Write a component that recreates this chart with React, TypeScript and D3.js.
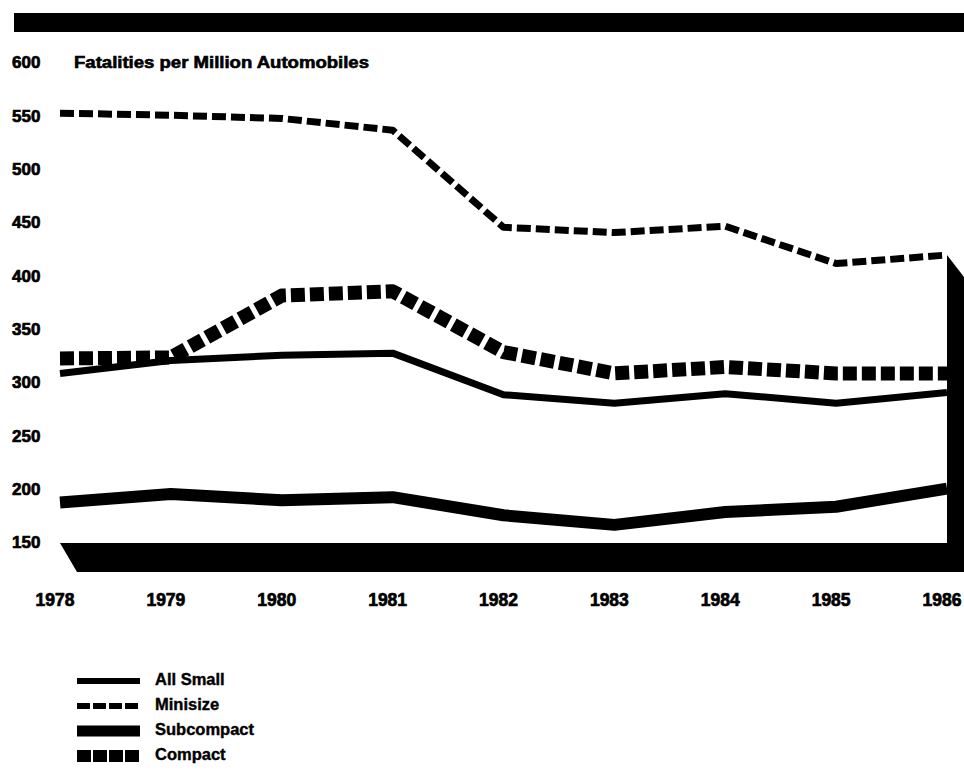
import * as d3 from 'd3'

const years = ['1978', '1979', '1980', '1981', '1982', '1983', '1984', '1985', '1986']
const allSmall = [309, 321, 326, 328, 289, 281, 290, 281, 291]
const minisize = [553, 551, 548, 537, 446, 441, 447, 412, 420]
const subcompact = [188, 196, 190, 193, 176, 167, 179, 184, 201]
const compact = [323, 324, 382, 386, 329, 309, 315, 309, 309]
const yTicks = [600, 550, 500, 450, 400, 350, 300, 250, 200, 150]

const series = [
  { name: 'All Small', values: allSmall, width: 7, dash: null, legendWidth: 6, legendDash: null },
  { name: 'Minisize', values: minisize, width: 7, dash: '14 5', legendWidth: 6, legendDash: '13 3' },
  { name: 'Subcompact', values: subcompact, width: 12, dash: null, legendWidth: 11, legendDash: null },
  { name: 'Compact', values: compact, width: 14, dash: '14 5', legendWidth: 12, legendDash: '14 2' },
]

const font = '"Liberation Sans", Arial, sans-serif'

export default function App() {
  const width = 964
  const height = 770

  const x = d3.scalePoint<string>().domain(years).range([60, 947])
  const y = d3.scaleLinear().domain([150, 600]).range([543, 63])

  const line = (vals: number[]) =>
    d3
      .line<number>()
      .x((_, i) => x(years[i]) as number)
      .y(d => y(d))(vals) as string

  // pseudo 3D floor and right wall
  const x0 = x(years[0]) as number
  const x1 = x(years[years.length - 1]) as number
  const base = y(150)
  const dx = 17
  const dy = 29
  const floor = [
    [x0, base],
    [x1, base],
    [x1 + dx, base + dy],
    [x0 + dx, base + dy],
  ]
  const wallTop = y(minisize[minisize.length - 1])
  const wall = [
    [x1, wallTop],
    [x1 + dx, wallTop + 22],
    [x1 + dx, base + dy],
    [x1, base + dy],
  ]
  const poly = (p: number[][]) => p.map(d => d.join(',')).join(' ')

  return (
    <svg
      width={width}
      height={height}
      style={{ position: 'absolute', left: 0, top: 0, background: '#fff' }}
      fontFamily={font}
      fontWeight="bold"
    >
      {/* top bar */}
      <rect x={14} y={13} width={950} height={19} fill="#000" />

      {/* title */}
      <text
        x={74}
        y={64}
        fontSize={16}
        dominantBaseline="middle"
        textLength={295}
        lengthAdjust="spacingAndGlyphs"
        stroke="#000"
        strokeWidth={0.6}
      >
        Fatalities per Million Automobiles
      </text>

      {/* y tick labels */}
      {yTicks.map(t => (
        <text
          key={t}
          x={12}
          y={y(t) + 1}
          fontSize={17}
          dominantBaseline="middle"
          stroke="#000"
          strokeWidth={0.7}
        >
          {t}
        </text>
      ))}

      {/* x tick labels */}
      {years.map(yr => (
        <text
          key={yr}
          x={(x(yr) as number) - 5}
          y={601}
          fontSize={17.5}
          textAnchor="middle"
          dominantBaseline="middle"
          stroke="#000"
          strokeWidth={0.7}
        >
          {yr}
        </text>
      ))}

      <polygon points={poly(floor)} fill="#000" />
      <polygon points={poly(wall)} fill="#000" />

      {/* series */}
      {series.map(s => (
        <path
          key={s.name}
          d={line(s.values)}
          fill="none"
          stroke="#000"
          strokeWidth={s.width}
          strokeDasharray={s.dash ?? undefined}
          strokeLinejoin="round"
        />
      ))}

      {/* legend */}
      {series.map((s, i) => {
        const ly = 681 + i * 25
        return (
          <g key={s.name}>
            <line
              x1={77}
              x2={140}
              y1={ly}
              y2={ly}
              stroke="#000"
              strokeWidth={s.legendWidth}
              strokeDasharray={s.legendDash ?? undefined}
            />
            <text
              x={155}
              y={ly}
              fontSize={16.5}
              dominantBaseline="middle"
              stroke="#000"
              strokeWidth={0.4}
            >
              {s.name}
            </text>
          </g>
        )
      })}
    </svg>
  )
}
